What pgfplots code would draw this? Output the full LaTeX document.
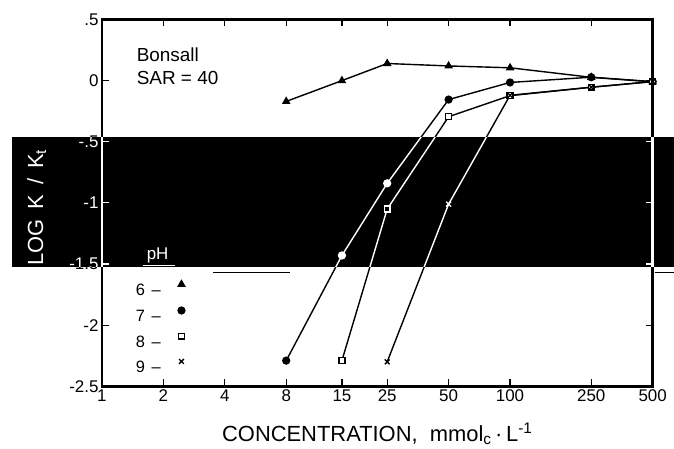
\documentclass[border=0pt]{standalone}
\usepackage{fontspec}
\setmainfont{Liberation Sans}
\usepackage{pgfplots}
\pgfplotsset{compat=1.18}

\begin{document}
\begin{tikzpicture}
% paper
\path[fill=white] (0bp,0bp) rectangle (674bp,446bp);
\begin{axis}[
  at={(102bp,59.5bp)}, anchor=south west,
  width=551bp, height=367bp, scale only axis,
  xmode=log, xmin=1, xmax=500, ymin=-2.5, ymax=0.5,
  xtick={1,2,4,8,15,25,50,100,250,500},
  xticklabels={1,2,4,8,15,25,50,100,250,500},
  xminorticks=false,
  ytick={-2.5,-2,-1.5,-1,-0.5,0,0.5},
  yticklabels={-2.5,-2,-1.5,-1,-.5,0,.5},
  tick align=inside,
  major tick length=7bp,
  axis line style={draw=black, line width=2.7bp},
  every tick/.style={black, line width=1.2bp},
  tick label style={font=\fontsize{17}{17}\selectfont},
  label style={font=\fontsize{22}{22}\selectfont},
  xlabel={CONCENTRATION,\ \ mmol\textsubscript{c}\,·\,L\textsuperscript{-1}},
  xlabel style={at={(axis description cs:0.5,-0.1504)}, anchor=base},
  ylabel={LOG\hspace{0.45em}K\hspace{0.45em}/\hspace{0.45em}K\textsubscript{t}},
  ylabel style={at={(axis description cs:-0.1185,0.488)}, anchor=center},
  clip=false,
  every axis plot/.append style={black, line width=1.4bp},
  legend plot pos=right,
  legend image code/.code={\path (0bp,0bp); \draw[#1] plot coordinates {(20bp,5bp)};},
  legend cell align=left,
  legend style={draw=none, fill=none, inner sep=0pt, outer sep=0pt,
    at={(axis description cs:0.0617,0.288)}, anchor=north west,
    font=\fontsize{16.5}{16.5}\selectfont, row sep=12bp,
    nodes={inner sep=0pt, text height=11.7bp, text depth=0bp}},
]
% pH 6
\addplot[mark=triangle*, mark size=3.6bp] coordinates {
  (8,-0.17) (15,0.0) (25,0.14) (50,0.12) (100,0.105) (250,0.027) (500,-0.01)};
\addlegendentry{6\hspace{0.4em}–}
% pH 7
\addplot[mark=*, mark size=3.4bp] coordinates {
  (8,-2.29) (15,-1.43) (25,-0.84) (50,-0.155) (100,-0.015) (250,0.028) (500,-0.008)};
\addlegendentry{7\hspace{0.4em}–}
% pH 8
\addplot[mark=square*, mark size=2.9bp, mark options={fill=white}] coordinates {
  (15,-2.29) (25,-1.05) (50,-0.295) (100,-0.123) (250,-0.054) (500,-0.008)};
\addlegendentry{8\hspace{0.4em}–}
% pH 9
\addplot[mark=x, mark size=3.4bp] coordinates {
  (25,-2.30) (50,-1.01) (100,-0.12) (250,-0.054) (500,-0.008)};
\addlegendentry{9\hspace{0.4em}–}
\end{axis}
% heavy frame round the plot area, one rule per side
\draw[black, line width=2.7bp] (100.65bp,59.5bp) -- (654.35bp,59.5bp);
\draw[black, line width=2.7bp] (100.65bp,426.5bp) -- (654.35bp,426.5bp);
\draw[black, line width=2.7bp] (102bp,58.15bp) -- (102bp,427.85bp);
\draw[black, line width=2.7bp] (653bp,58.15bp) -- (653bp,427.85bp);
% annotations
\node[anchor=base west, inner sep=0pt, font=\fontsize{19}{19}\selectfont] at (136.7bp,384.3bp) {Bonsall};
\node[anchor=base west, inner sep=0pt, font=\fontsize{19}{19}\selectfont] at (136.7bp,361bp) {SAR = 40};
\node[anchor=base west, font=\fontsize{17}{17}\selectfont, inner sep=0pt] at (146.7bp,186bp) {pH};
\draw[black, line width=1.2bp] (142.7bp,180bp) -- (175bp,180bp);
% stray rules of the print
\draw[black, line width=0.7bp] (213bp,173.3bp) -- (290bp,173.3bp);
\draw[black, line width=0.7bp] (655bp,174bp) -- (674bp,174bp);
% dark band of the print, inverting what lies beneath
\path[fill=white, blend mode=difference] (12.5bp,178.7bp) rectangle (674bp,309.3bp);
\end{tikzpicture}
\end{document}
